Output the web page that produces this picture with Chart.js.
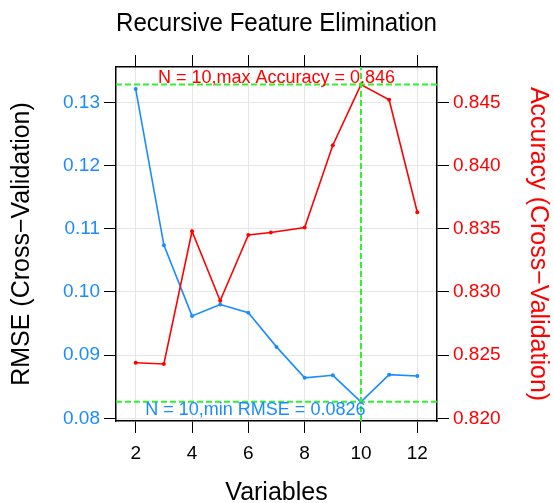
<!DOCTYPE html>
<html>
<head>
<meta charset="utf-8">
<script src="https://cdn.jsdelivr.net/npm/chart.js@4.4.1/dist/chart.umd.min.js"></script>
<style>
  html, body { margin: 0; padding: 0; background: #fff; }
  #wrap { width: 554px; height: 503px; }
</style>
</head>
<body>
<div id="wrap"><canvas id="rfeChart" width="554" height="503"></canvas></div>
<script>
// данные
const variables = [2, 3, 4, 5, 6, 7, 8, 9, 10, 11, 12];
const rmse = [0.1321, 0.1074, 0.0962, 0.0980, 0.0967, 0.0913, 0.0864, 0.0868, 0.0826, 0.0869, 0.0867];
const accVariables = [2, 3, 4, 5, 6, 6.8, 8, 9, 10, 11, 12];
const accuracy = [0.8244, 0.8243, 0.8348, 0.8293, 0.8345, 0.8347, 0.8351, 0.8416, 0.8464, 0.8452, 0.8363];

const xTicks = [2, 4, 6, 8, 10, 12];
const rmseTicks = [0.08, 0.09, 0.10, 0.11, 0.12, 0.13];
const accTicks = [0.820, 0.825, 0.830, 0.835, 0.840, 0.845];

const BLUE = '#1a8cff';
const RED = '#ff0000';
const GREEN = '#2ef22e';
const FONT = 'Liberation Sans, Arial, sans-serif';

// лучшие значения
const bestRmse = Math.min(...rmse);
const bestRmseN = variables[rmse.indexOf(bestRmse)];
const bestAcc = Math.max(...accuracy);
const bestAccN = accVariables[accuracy.indexOf(bestAcc)];

const xMin = 1.3, xMax = 12.7;
const rmseMin = 0.07957, rmseMax = 0.13559;
const accMin = 0.81979, accMax = 0.84779;

const toPoints = (xs, ys) => xs.map((x, i) => ({x: x, y: ys[i]}));

/*подписи у зелёных линий*/
const bestLabels = {
    id: 'bestLabels',
    afterDatasetsDraw(chart) {
        const {ctx, chartArea, scales} = chart;
        ctx.save();
        ctx.font = '18px ' + FONT;
        ctx.textAlign = 'center';
        ctx.textBaseline = 'alphabetic';

        ctx.fillStyle = RED;
        const yAcc = scales.y1.getPixelForValue(bestAcc);
        ctx.fillText('N = ' + bestAccN + ',max Accuracy = ' + bestAcc.toFixed(3),
            (chartArea.left + chartArea.right) / 2, yAcc - 2);

        ctx.fillStyle = BLUE;
        const yRmse = scales.y.getPixelForValue(bestRmse);
        ctx.fillText('N = ' + bestRmseN + ',min RMSE = ' + bestRmse.toFixed(4),
            scales.x.getPixelForValue(6.25), yRmse + 13.5);
        ctx.restore();
    }
};

const ctx = document.getElementById('rfeChart').getContext('2d');

const greenLine = {
    borderColor: GREEN,
    borderWidth: 2,
    borderDash: [6, 3],
    pointRadius: 0,
    order: 0
};

const rfeChart = new Chart(ctx, {
    type: 'line',
    data: {
        datasets: [
            {
                label: 'RMSE',
                data: toPoints(variables, rmse),
                yAxisID: 'y',
                borderColor: BLUE,
                backgroundColor: BLUE,
                borderWidth: 1.6,
                pointRadius: 2,
                pointBorderWidth: 0,
                order: 2
            },
            {
                label: 'Accuracy',
                data: toPoints(accVariables, accuracy),
                yAxisID: 'y1',
                borderColor: RED,
                backgroundColor: RED,
                borderWidth: 1.6,
                pointRadius: 2,
                pointBorderWidth: 0,
                order: 1
            },
            Object.assign({
                label: 'min RMSE',
                data: toPoints([xMin, xMax], [bestRmse, bestRmse]),
                yAxisID: 'y'
            }, greenLine),
            Object.assign({
                label: 'max Accuracy',
                data: toPoints([xMin, xMax], [bestAcc, bestAcc]),
                yAxisID: 'y1'
            }, greenLine),
            Object.assign({
                label: 'best N',
                data: toPoints([bestAccN, bestAccN], [accMin, accMax]),
                yAxisID: 'y1'
            }, greenLine)
        ]
    },
    options: {
        responsive: false,
        animation: false,
        layout: { padding: 0 },
        plugins: {
            legend: { display: false },
            title: { display: false },
            tooltip: { enabled: false }
        },
        scales: {
            x: {
                type: 'linear',
                position: 'bottom',
                min: xMin,
                max: xMax,
                afterBuildTicks: s => { s.ticks = xTicks.map(v => ({value: v})); },
                afterFit: s => { s.height = 82; },
                grid: { color: '#e6e6e6', tickColor: '#000', tickLength: 12, lineWidth: 1 },
                border: { color: '#000', width: 1.5 },
                ticks: { color: '#000', padding: 11, font: { family: FONT, size: 19, lineHeight: 1 } },
                title: {
                    display: true, text: 'Variables', color: '#000',
                    font: { family: FONT, size: 25, lineHeight: 0.8 },
                    padding: { top: 0, bottom: 0 }
                }
            },
            x2: {
                type: 'linear',
                position: 'top',
                min: xMin,
                max: xMax,
                afterBuildTicks: s => { s.ticks = xTicks.map(v => ({value: v})); },
                afterFit: s => { s.height = 67; },
                grid: { drawOnChartArea: false, tickColor: '#000', tickLength: 12 },
                border: { color: '#000', width: 1.5 },
                ticks: { callback: () => '' },
                title: {
                    display: true, text: 'Recursive Feature Elimination', color: '#000',
                    font: { family: FONT, size: 25, lineHeight: 1 },
                    padding: { top: 11.5, bottom: 0 }
                }
            },
            y: {
                type: 'linear',
                position: 'left',
                min: rmseMin,
                max: rmseMax,
                afterBuildTicks: s => { s.ticks = rmseTicks.map(v => ({value: v})); },
                afterFit: s => { s.width = 116; },
                grid: { color: '#e6e6e6', tickColor: '#000', tickLength: 12, lineWidth: 1 },
                border: { color: '#000', width: 1.5 },
                ticks: {
                    color: BLUE, padding: 4,
                    font: { family: FONT, size: 19 },
                    callback: v => v.toFixed(2)
                },
                title: {
                    display: true, text: 'RMSE (Cross−Validation)', color: '#000',
                    font: { family: FONT, size: 25, lineHeight: 1 },
                    padding: { top: 10, bottom: 0 }
                }
            },
            y1: {
                type: 'linear',
                position: 'right',
                min: accMin,
                max: accMax,
                afterBuildTicks: s => { s.ticks = accTicks.map(v => ({value: v})); },
                afterFit: s => { s.width = 117; },
                grid: { drawOnChartArea: false, tickColor: '#000', tickLength: 12 },
                border: { color: '#000', width: 1.5 },
                ticks: {
                    color: RED, padding: 4,
                    font: { family: FONT, size: 19 },
                    callback: v => v.toFixed(3)
                },
                title: {
                    display: true, text: 'Accuracy (Cross−Validation)', color: RED,
                    font: { family: FONT, size: 25, lineHeight: 1 },
                    padding: { top: 3.5, bottom: 0 }
                }
            }
        }
    },
    plugins: [bestLabels]
});
</script>
</body>
</html>
